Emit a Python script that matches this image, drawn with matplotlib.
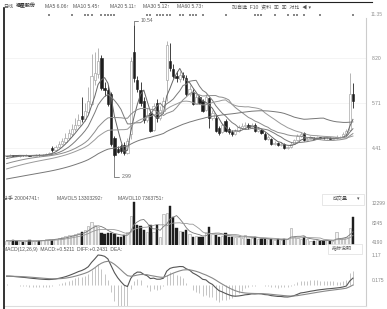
import numpy as np
import pandas as pd
import matplotlib
matplotlib.use("Agg")
import matplotlib.pyplot as plt
from matplotlib.lines import Line2D
from matplotlib.patches import Rectangle
import matplotlib.transforms as mtransforms

plt.rcParams['font.family'] = ['Liberation Sans', 'Noto Sans CJK SC', 'DejaVu Sans']

# closes before the visible window (only used to warm up the averages)
history = [1.02, 1.00, 1.04, 1.03, 1.06, 1.05, 1.08, 1.07, 1.10, 1.09,
           1.12, 1.11, 1.14, 1.13, 1.16, 1.15, 1.18, 1.17, 1.20, 1.19,
           1.22, 1.21, 1.24, 1.23, 1.26, 1.25, 1.28, 1.27, 1.30, 1.29,
           1.35, 1.42, 1.48, 1.55, 1.60, 1.68, 1.74, 1.80, 1.86, 1.93,
           2.00, 2.05, 2.12, 2.18, 2.24, 2.30, 2.36, 2.43, 2.50, 2.55,
           2.62, 2.68, 2.74, 2.80, 2.85, 2.90, 2.95, 3.00, 3.02, 3.05]

opens = [3.05, 3.08, 3.12, 3.10, 3.05, 3.11, 3.08, 3.12, 3.06, 3.07,
         3.13, 3.10, 3.13, 3.16, 3.50, 3.40, 3.55, 3.72, 3.88, 4.08,
         4.30, 4.58, 4.82, 5.35, 5.15, 5.55, 6.05, 7.40, 7.75, 8.63,
         6.95, 6.84, 6.61, 4.07, 3.45, 3.60, 3.70, 3.25, 4.30, 9.00,
         7.40, 6.80, 6.20, 5.10, 5.50, 4.55, 6.10, 5.25, 5.60, 7.40,
         8.50, 8.00, 7.60, 7.45, 7.70, 7.50, 6.60, 6.70, 6.05, 6.45,
         6.20, 5.70, 6.35, 5.20, 5.20, 4.65, 4.40, 5.05, 4.60, 4.45,
         4.30, 4.50, 4.68, 4.75, 4.85, 4.70, 4.85, 4.50, 4.55, 4.30,
         4.00, 4.05, 3.75, 3.82, 3.70, 3.72, 3.50, 3.56, 3.76, 3.95,
         4.18, 4.35, 3.95, 4.05, 4.10, 4.05, 4.12, 4.08, 4.06, 4.10,
         4.04, 4.08, 4.12, 4.15, 4.30, 4.55, 6.60]
closes = [3.10, 3.12, 3.08, 3.06, 3.10, 3.09, 3.11, 3.07, 3.08, 3.12,
          3.10, 3.14, 3.16, 3.22, 3.40, 3.55, 3.75, 3.90, 4.10, 4.35,
          4.60, 4.85, 5.10, 5.15, 5.60, 6.20, 7.60, 7.80, 8.50, 6.96,
          6.80, 6.03, 3.72, 3.14, 3.30, 3.35, 3.20, 3.90, 8.50, 7.50,
          6.90, 6.10, 5.10, 5.40, 4.50, 5.90, 5.20, 5.70, 6.20, 9.40,
          8.10, 7.60, 7.50, 7.70, 7.55, 6.60, 6.90, 6.05, 6.40, 6.10,
          5.65, 6.40, 5.25, 5.50, 4.50, 4.35, 4.80, 4.50, 4.40, 4.30,
          4.50, 4.70, 4.78, 4.85, 4.70, 4.82, 4.50, 4.58, 4.38, 4.02,
          4.12, 3.75, 3.82, 3.70, 3.76, 3.50, 3.56, 3.76, 3.96, 4.20,
          4.32, 3.95, 4.05, 4.10, 4.05, 4.12, 4.08, 4.06, 4.10, 4.04,
          4.08, 4.12, 4.15, 4.30, 4.50, 6.60, 6.20]
highs = [3.14, 3.15, 3.14, 3.12, 3.13, 3.14, 3.15, 3.13, 3.12, 3.16,
         3.15, 3.18, 3.22, 3.30, 3.62, 3.70, 3.90, 4.10, 4.35, 4.60,
         4.90, 5.20, 5.45, 6.40, 6.10, 7.00, 8.90, 9.00, 9.20, 8.80,
         7.30, 7.10, 6.70, 4.20, 3.60, 3.75, 3.85, 4.10, 8.70, 10.54,
         7.60, 7.30, 6.40, 5.80, 5.70, 6.10, 6.30, 5.90, 6.40, 9.60,
         9.50, 8.30, 7.90, 7.90, 7.85, 7.70, 7.10, 6.90, 6.60, 6.55,
         6.30, 6.60, 6.45, 5.70, 5.40, 4.75, 4.95, 5.15, 4.70, 4.55,
         4.60, 4.85, 4.95, 5.00, 4.95, 4.95, 4.95, 4.70, 4.62, 4.40,
         4.25, 4.10, 3.90, 3.88, 3.85, 3.78, 3.65, 3.85, 4.05, 4.30,
         4.45, 4.45, 4.12, 4.18, 4.15, 4.20, 4.16, 4.12, 4.16, 4.14,
         4.14, 4.25, 4.22, 4.40, 4.62, 7.80, 7.20]
lows = [3.02, 3.05, 3.05, 3.03, 3.02, 3.06, 3.06, 3.04, 3.04, 3.05,
        3.07, 3.08, 3.11, 3.14, 3.30, 3.36, 3.50, 3.66, 3.82, 4.00,
        4.22, 4.50, 4.75, 5.00, 5.05, 5.45, 5.95, 7.10, 7.50, 6.80,
        6.50, 5.90, 3.60, 2.99, 3.20, 3.25, 3.10, 3.15, 4.00, 7.30,
        6.70, 5.90, 4.95, 5.00, 4.40, 4.50, 5.00, 5.10, 5.50, 6.20,
        7.90, 7.50, 7.30, 7.30, 7.40, 6.50, 6.50, 5.95, 6.00, 6.00,
        5.55, 5.60, 4.65, 5.10, 4.40, 4.25, 4.35, 4.40, 4.30, 4.20,
        4.25, 4.45, 4.60, 4.70, 4.62, 4.65, 4.45, 4.45, 4.30, 3.95,
        3.95, 3.70, 3.70, 3.65, 3.65, 3.45, 3.45, 3.52, 3.72, 3.90,
        4.15, 3.90, 3.90, 4.00, 4.00, 4.02, 4.02, 4.00, 4.02, 4.00,
        4.00, 4.04, 4.08, 4.12, 4.25, 4.50, 5.80]
volumes = [3.2e6, 2.8e6, 3.5e6, 2.6e6, 3.0e6, 2.4e6, 2.9e6, 3.3e6, 2.7e6, 3.1e6,
           2.9e6, 3.6e6, 4.0e6, 4.4e6, 3.8e6, 4.6e6, 5.0e6, 5.6e6, 6.2e6, 6.8e6,
           7.4e6, 8.0e6, 8.6e6, 9.4e6, 1.1e7, 1.35e7, 1.65e7, 1.45e7, 1.3e7, 8.3e6,
           8.0e6, 8.4e6, 8.6e6, 7.6e6, 6.0e6, 5.4e6, 7.0e6, 9.0e6, 2.1e7, 3.07e7,
           1.45e7, 1.38e7, 1.1e7, 9.0e6, 1.42e7, 9.5e6, 1.4e7, 5.8e6, 2.2e7, 2.3e7,
           2.8e7, 2.0e7, 1.2e7, 1.0e7, 9.0e6, 1.06e7, 8.0e6, 5.9e6, 6.3e6, 6.0e6,
           5.8e6, 9.0e6, 1.3e7, 7.5e6, 7.0e6, 6.0e6, 6.5e6, 8.3e6, 6.0e6, 5.4e6,
           6.0e6, 5.8e6, 5.2e6, 7.0e6, 4.5e6, 4.8e6, 5.5e6, 4.4e6, 4.2e6, 4.6e6,
           4.0e6, 4.3e6, 3.9e6, 4.1e6, 3.6e6, 4.5e6, 4.0e6, 1.2e7, 5.5e6, 5.0e6,
           4.6e6, 5.8e6, 4.2e6, 3.2e6, 3.0e6, 3.4e6, 2.9e6, 3.1e6, 3.3e6, 2.8e6,
           3.2e6, 9.0e6, 4.5e6, 5.0e6, 5.6e6, 1.2e7, 20004741]
event_days = [13, 20, 24, 25, 26, 29, 30, 31, 32, 33, 43, 44, 46, 47, 48, 49, 50,
              53, 54, 56, 57, 58, 60, 67, 76, 77, 78, 82, 86, 88, 89, 91, 96, 106]

price_labels = ["8.20", "5.71", "4.41"]
vol_labels = ["12299", "8245", "4190"]
macd_labels = ["1.17", "0.175"]

n = len(closes)
idx = np.arange(n)
o = np.array(opens); c = np.array(closes); h = np.array(highs); l = np.array(lows)
v = np.array(volumes)
up = c >= o

full = pd.Series(history + closes)
mas = {k: full.rolling(k, min_periods=1).mean().values[len(history):] for k in (5, 10, 20, 30, 60)}
ema12 = full.ewm(span=12, adjust=False).mean()
ema26 = full.ewm(span=26, adjust=False).mean()
diff = (ema12 - ema26)
dea = diff.ewm(span=9, adjust=False).mean()
diff = diff.values[len(history):]
dea = dea.values[len(history):]
macd_bar = 2 * (diff - dea)
vs = pd.Series(volumes)
mavol5 = vs.rolling(5, min_periods=1).mean().values
mavol10 = vs.rolling(10, min_periods=1).mean().values

W, H = 387, 309
fig = plt.figure(figsize=(W / 100, H / 100), dpi=100)

def box(x0, y0, x1, y1):
    return [x0 / W, 1 - y1 / H, (x1 - x0) / W, (y1 - y0) / H]

ax = fig.add_axes(box(4, 18, 366, 192))
axv = fig.add_axes(box(4, 193, 366, 245))
axm = fig.add_axes(box(4, 246, 366, 306))

for a in (ax, axv, axm):
    a.set_xlim(-0.8, 110)
    a.set_xticks([])
    for s in ("top", "bottom", "left"):
        a.spines[s].set_visible(False)
    a.spines["right"].set_color("#cccccc")
    a.spines["right"].set_linewidth(0.8)
    a.yaxis.tick_right()
    a.tick_params(axis="y", length=0, labelsize=3.6, labelcolor="#888888", pad=4)

# price candles
ax.set_ylim(1.0, 10.94)
ax.vlines(idx, l, h, color=np.where(up, "#a8a8a8", "#222222"), lw=0.6, zorder=2)
body_lo = np.minimum(o, c)
body_h = np.maximum(np.abs(c - o), 0.04)
ax.bar(idx[up], body_h[up], bottom=body_lo[up], width=0.7, facecolor="white",
       edgecolor="#a8a8a8", lw=0.5, zorder=3)
ax.bar(idx[~up], body_h[~up], bottom=body_lo[~up], width=0.7, facecolor="#1e1e1e",
       edgecolor="#1e1e1e", lw=0.4, zorder=3)
ma_colors = {5: "#666666", 10: "#7a7a7a", 20: "#8c8c8c", 30: "#9a9a9a", 60: "#777777"}
for k, col in ma_colors.items():
    ax.plot(idx, mas[k], color=col, lw=0.7, zorder=4)
ptick = [8.63, 6.09, 3.49]
ax.set_yticks(ptick, price_labels)
for y in ptick:
    ax.axhline(y, color="#f0f0f0", lw=0.5, zorder=0)

imax = int(np.argmax(h)); imin = int(np.argmin(l))
ax.annotate(f"{h[imax]:.2f}", xy=(imax, h[imax]), xytext=(5, 3), textcoords="offset points",
            fontsize=3.6, color="#666666", va="center",
            arrowprops=dict(arrowstyle="-", color="#555555", lw=0.5,
                            connectionstyle="angle,angleA=0,angleB=90,rad=0", shrinkA=0, shrinkB=0))
ax.annotate(f"{l[imin]:.2f}", xy=(imin, l[imin]), xytext=(5, -14), textcoords="offset points",
            fontsize=3.6, color="#666666", va="center",
            arrowprops=dict(arrowstyle="-", color="#555555", lw=0.5,
                            connectionstyle="angle,angleA=0,angleB=90,rad=0", shrinkA=0, shrinkB=0))

trans = mtransforms.blended_transform_factory(ax.transData, ax.transAxes)
ax.scatter(event_days, [1.018] * len(event_days), marker="s", s=1.5, color="#888888",
           transform=trans, clip_on=False, lw=0)

# volume
axv.set_ylim(0, 3.71e7)
axv.bar(idx[up], v[up], width=0.7, facecolor="#f4f4f4", edgecolor="#b0b0b0", lw=0.5)
axv.bar(idx[~up], v[~up], width=0.7, facecolor="#1e1e1e", edgecolor="#1e1e1e", lw=0.3)
axv.plot(idx, mavol5, color="#777777", lw=0.6)
axv.plot(idx, mavol10, color="#999999", lw=0.6)
axv.set_yticks([3.0e7, 1.57e7, 0.2e7], vol_labels)

# macd
R = (diff.max() - diff.min()) / 0.7
lo = diff.min() - 0.15 * R
axm.set_ylim(lo, lo + R)
axm.vlines(idx, 0, macd_bar, color="#bbbbbb", lw=0.6)
axm.plot(idx, diff, color="#555555", lw=0.8)
axm.plot(idx, dea, color="#888888", lw=0.8)
axm.set_yticks([diff.max(), lo + 0.43 * R], macd_labels)
axm.spines["bottom"].set_visible(True)
axm.spines["bottom"].set_color("#dddddd")

# header texts
tk = dict(fontsize=3.6, color="#555555", va="center")
y0 = 1 - 6 / H
fig.text(3 / W, y0, "日线", **tk)
fig.text(16 / W, y0, "福星股份", fontsize=3.6, color="#333333", va="center", weight="bold")
for x, s in [(45, "MA5 6.06↑"), (73, "MA10 5.45↑"), (110, "MA20 5.11↑"),
             (143, "MA30 5.12↑"), (177, "MA60 5.73↑")]:
    fig.text(x / W, y0, s, **tk)
fig.text(232 / W, 1 - 8 / H, "加自选  F10  资料  ▣  ▣  对比  ◀ ▾", **tk)
fig.text(371 / W, 1 - 14 / H, "11.35", fontsize=3.6, color="#999999", va="center")

yv = 1 - 199 / H
fig.text(3 / W, yv, "总手 20004741↑", **tk)
fig.text(57 / W, yv, "MAVOL5 13303292↑", **tk)
fig.text(118 / W, yv, "MAVOL10 7363751↑", **tk)
fig.patches.append(Rectangle((322 / W, 1 - 205 / H), 42 / W, 11 / H, transform=fig.transFigure,
                             facecolor="white", edgecolor="#dddddd", lw=0.5))
fig.text(333 / W, yv, "成交量", **tk)
fig.text(357 / W, yv, "▾", **tk)

ym = 1 - 249 / H
fig.text(3 / W, ym, "MACD(12,26,9)  MACD:+0.5211  DIFF:+0.2431  DEA:", **tk)
fig.patches.append(Rectangle((328 / W, 1 - 254 / H), 34 / W, 10 / H, transform=fig.transFigure,
                             facecolor="white", edgecolor="#dddddd", lw=0.5))
fig.text(332 / W, ym, "指标说明", **tk)

fig.add_artist(Line2D([4 / W, 4 / W], [0, 1 - 8 / H], color="#111111", lw=1.2))
fig.add_artist(Line2D([160 / W, 372 / W], [1 - 2 / H, 1 - 2 / H], color="#222222", lw=0.8))

fig.savefig("out.png", dpi=100)
